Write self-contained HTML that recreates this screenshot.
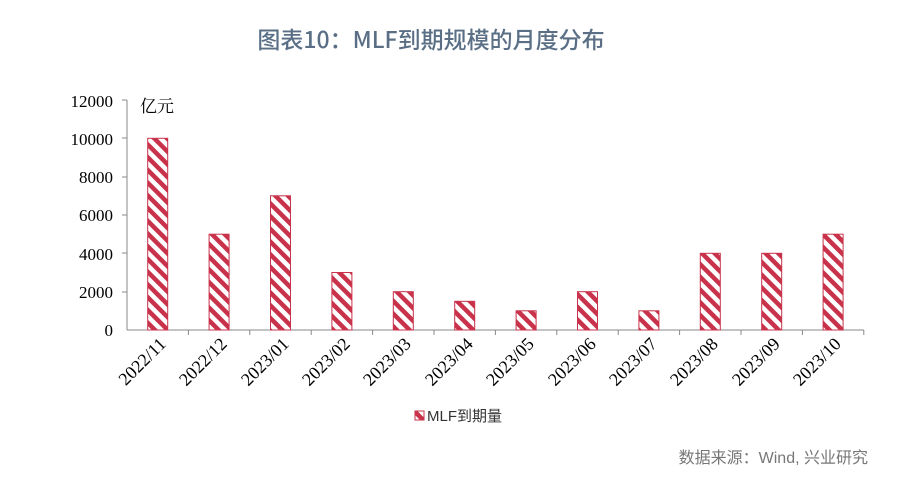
<html><head><style>body{margin:0;background:#fff;width:900px;height:495px;overflow:hidden}</style></head><body>
<svg width="900" height="495" xmlns="http://www.w3.org/2000/svg" font-family="'Liberation Serif','Noto Serif CJK SC',serif">
<defs><pattern id="p" patternUnits="userSpaceOnUse" width="9" height="9" patternTransform="rotate(-45)"><rect width="9" height="9" fill="#fff"/><rect width="4.5" height="9" fill="#c8324b"/></pattern></defs>
<text x="431" y="48" text-anchor="middle" font-family="'Noto Sans CJK SC',sans-serif" font-size="23" font-weight="500" fill="#5a6f86">图表10：MLF到期规模的月度分布</text>
<text x="140" y="112" font-size="17" font-family="'Noto Serif CJK SC',serif">亿元</text>
<g font-size="17" text-anchor="end">
<text x="113" y="336">0</text><text x="113" y="298">2000</text><text x="113" y="260">4000</text><text x="113" y="221">6000</text><text x="113" y="183">8000</text><text x="113" y="145">10000</text><text x="113" y="107">12000</text></g>
<line x1="127" y1="100" x2="127" y2="330" stroke="#888"/>
<line x1="127" y1="330" x2="864" y2="330" stroke="#888"/>
<g stroke="#888">
<line x1="122" y1="100" x2="127" y2="100"/><line x1="122" y1="138" x2="127" y2="138"/><line x1="122" y1="177" x2="127" y2="177"/><line x1="122" y1="215" x2="127" y2="215"/><line x1="122" y1="253" x2="127" y2="253"/><line x1="122" y1="292" x2="127" y2="292"/>
<line x1="188.4" y1="330" x2="188.4" y2="335"/><line x1="249.8" y1="330" x2="249.8" y2="335"/><line x1="311.2" y1="330" x2="311.2" y2="335"/><line x1="372.6" y1="330" x2="372.6" y2="335"/><line x1="434" y1="330" x2="434" y2="335"/><line x1="495.4" y1="330" x2="495.4" y2="335"/><line x1="556.8" y1="330" x2="556.8" y2="335"/><line x1="618.2" y1="330" x2="618.2" y2="335"/><line x1="679.6" y1="330" x2="679.6" y2="335"/><line x1="741" y1="330" x2="741" y2="335"/><line x1="802.4" y1="330" x2="802.4" y2="335"/><line x1="863.8" y1="330" x2="863.8" y2="335"/>
</g>
<g stroke="#c8324b" stroke-width="1" fill="url(#p)">
<rect x="147.7" y="138.3" width="20" height="191.7"/>
<rect x="209.1" y="234.2" width="20" height="95.8"/>
<rect x="270.5" y="195.8" width="20" height="134.2"/>
<rect x="331.9" y="272.5" width="20" height="57.5"/>
<rect x="393.3" y="291.7" width="20" height="38.3"/>
<rect x="454.7" y="301.3" width="20" height="28.7"/>
<rect x="516.1" y="310.8" width="20" height="19.2"/>
<rect x="577.5" y="291.7" width="20" height="38.3"/>
<rect x="638.9" y="310.8" width="20" height="19.2"/>
<rect x="700.3" y="253.3" width="20" height="76.7"/>
<rect x="761.7" y="253.3" width="20" height="76.7"/>
<rect x="823.1" y="234.2" width="20" height="95.8"/>
</g>
<g font-size="18" text-anchor="end">
<text transform="translate(167,345) rotate(-45)">2022/11</text>
<text transform="translate(228,345) rotate(-45)">2022/12</text>
<text transform="translate(290,345) rotate(-45)">2023/01</text>
<text transform="translate(351,345) rotate(-45)">2023/02</text>
<text transform="translate(412,345) rotate(-45)">2023/03</text>
<text transform="translate(474,345) rotate(-45)">2023/04</text>
<text transform="translate(535,345) rotate(-45)">2023/05</text>
<text transform="translate(597,345) rotate(-45)">2023/06</text>
<text transform="translate(658,345) rotate(-45)">2023/07</text>
<text transform="translate(719,345) rotate(-45)">2023/08</text>
<text transform="translate(781,345) rotate(-45)">2023/09</text>
<text transform="translate(842,345) rotate(-45)">2023/10</text>
</g>
<rect x="415" y="411" width="9" height="9" fill="url(#p)" stroke="#c8324b"/>
<text x="427" y="421" font-size="15" font-family="'Liberation Sans','Noto Sans CJK SC',sans-serif" fill="#333">MLF到期量</text>
<text x="868" y="463" text-anchor="end" font-size="16" font-family="'Liberation Sans','Noto Sans CJK SC',sans-serif" fill="#777">数据来源：Wind, 兴业研究</text>
</svg></body></html>
